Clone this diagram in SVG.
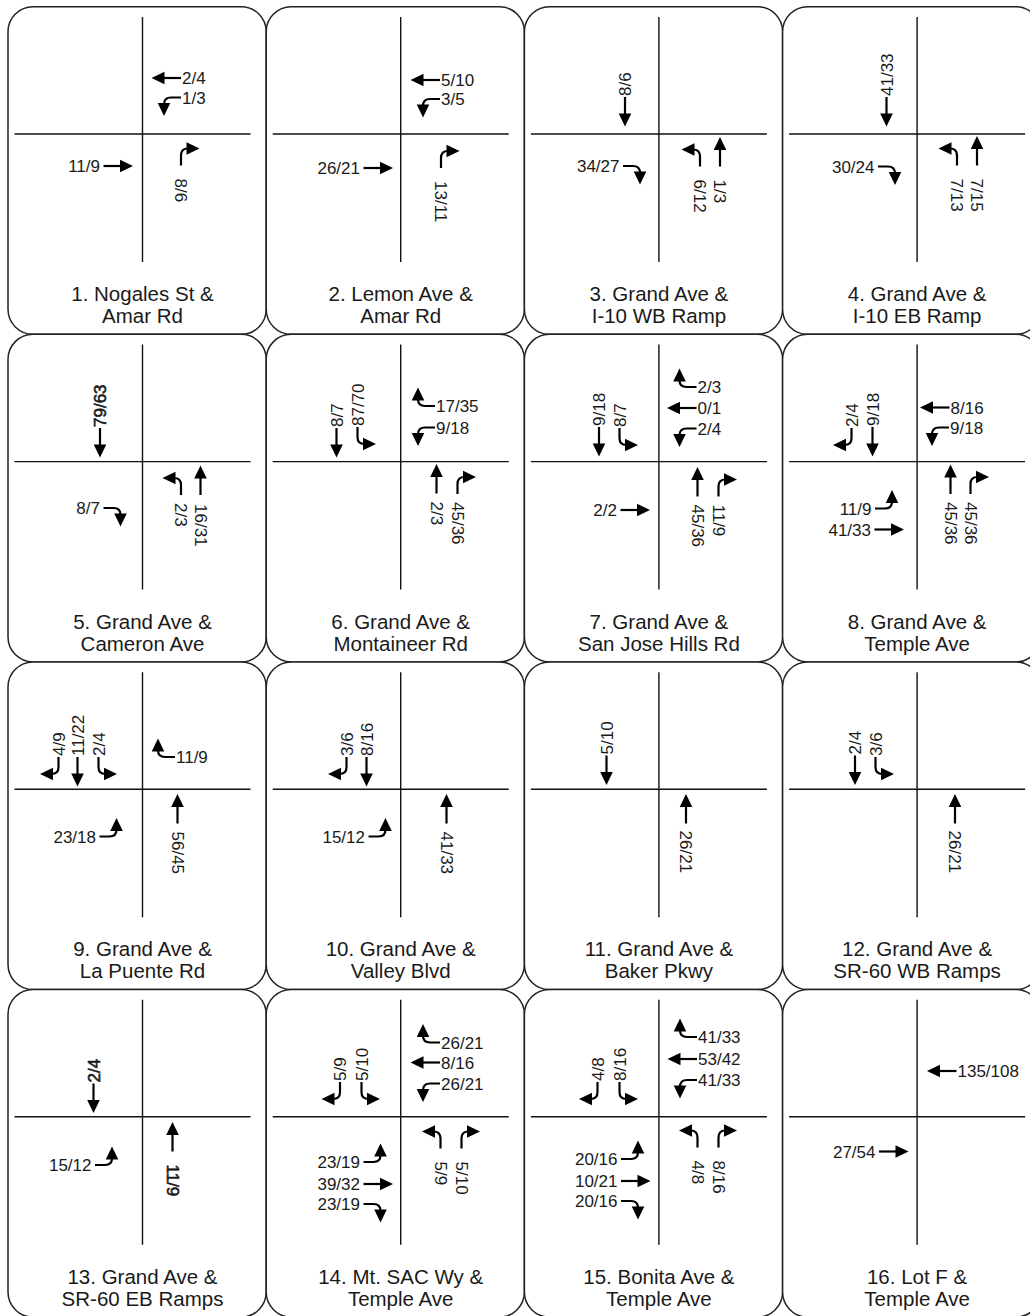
<svg xmlns="http://www.w3.org/2000/svg" width="1030" height="1316" viewBox="0 0 1030 1316">
<style>
.fr{fill:#fff;stroke:#222;stroke-width:1.5}
.rd{stroke:#111;stroke-width:1.4;fill:none}
text{font-family:"Liberation Sans",Arial,sans-serif;fill:#1a1a1a}
.n{font-size:17px}
.e{text-anchor:end}
.lb{font-size:20.5px;text-anchor:middle}
.b{stroke:#1a1a1a;stroke-width:0.6}
</style>
<defs>
<g id="T"><path d="M0,0H18" stroke="#000" stroke-width="2.2" fill="none"/><polygon points="16.5,-6.3 29.5,0 16.5,6.3" fill="#000"/></g>
<g id="R"><path d="M0,0H10Q17,0 17,7" stroke="#000" stroke-width="2.2" fill="none"/><polygon points="10.7,5.5 23.3,5.5 17,18.5" fill="#000"/></g>
<g id="L"><path d="M0,0H10Q17,0 17,-7" stroke="#000" stroke-width="2.2" fill="none"/><polygon points="10.7,-5.5 23.3,-5.5 17,-18.5" fill="#000"/></g>
</defs>
<rect width="1030" height="1316" fill="#fff"/>
<g id="frames">
<rect class="fr" x="8" y="6.7" width="258.2" height="327.6" rx="25"/>
<rect class="fr" x="266.2" y="6.7" width="258.2" height="327.6" rx="25"/>
<rect class="fr" x="524.4" y="6.7" width="258.2" height="327.6" rx="25"/>
<rect class="fr" x="782.6" y="6.7" width="258.2" height="327.6" rx="25"/>
<rect class="fr" x="8" y="334.3" width="258.2" height="327.6" rx="25"/>
<rect class="fr" x="266.2" y="334.3" width="258.2" height="327.6" rx="25"/>
<rect class="fr" x="524.4" y="334.3" width="258.2" height="327.6" rx="25"/>
<rect class="fr" x="782.6" y="334.3" width="258.2" height="327.6" rx="25"/>
<rect class="fr" x="8" y="661.9" width="258.2" height="327.6" rx="25"/>
<rect class="fr" x="266.2" y="661.9" width="258.2" height="327.6" rx="25"/>
<rect class="fr" x="524.4" y="661.9" width="258.2" height="327.6" rx="25"/>
<rect class="fr" x="782.6" y="661.9" width="258.2" height="327.6" rx="25"/>
<rect class="fr" x="8" y="989.5" width="258.2" height="327.6" rx="25"/>
<rect class="fr" x="266.2" y="989.5" width="258.2" height="327.6" rx="25"/>
<rect class="fr" x="524.4" y="989.5" width="258.2" height="327.6" rx="25"/>
<rect class="fr" x="782.6" y="989.5" width="258.2" height="327.6" rx="25"/>
</g>
<g id="roads">
<path class="rd" d="M142.5,17V262M14.5,134H250.5"/>
<path class="rd" d="M400.7,17V262M272.7,134H508.7"/>
<path class="rd" d="M658.9,17V262M530.9,134H766.9"/>
<path class="rd" d="M917.1,17V262M789.1,134H1025.1"/>
<path class="rd" d="M142.5,344.6V589.6M14.5,461.6H250.5"/>
<path class="rd" d="M400.7,344.6V589.6M272.7,461.6H508.7"/>
<path class="rd" d="M658.9,344.6V589.6M530.9,461.6H766.9"/>
<path class="rd" d="M917.1,344.6V589.6M789.1,461.6H1025.1"/>
<path class="rd" d="M142.5,672.2V917.2M14.5,789.2H250.5"/>
<path class="rd" d="M400.7,672.2V917.2M272.7,789.2H508.7"/>
<path class="rd" d="M658.9,672.2V917.2M530.9,789.2H766.9"/>
<path class="rd" d="M917.1,672.2V917.2M789.1,789.2H1025.1"/>
<path class="rd" d="M142.5,999.8V1244.8M14.5,1116.8H250.5"/>
<path class="rd" d="M400.7,999.8V1244.8M272.7,1116.8H508.7"/>
<path class="rd" d="M658.9,999.8V1244.8M530.9,1116.8H766.9"/>
<path class="rd" d="M917.1,999.8V1244.8M789.1,1116.8H1025.1"/>
</g>
<g id="p1">
<use href="#T" transform="translate(181,78) rotate(180)"/><text class="n" x="182" y="84">2/4</text>
<use href="#L" transform="translate(181,97.5) rotate(180)"/><text class="n" x="182" y="103.5">1/3</text>
<use href="#T" transform="translate(103.5,166)"/><text class="n e" x="100" y="172">11/9</text>
<use href="#R" transform="translate(181,165.5) rotate(-90)"/><text class="n" transform="translate(175,178.5) rotate(90)">8/6</text>
<text class="lb" x="142.5" y="301">1. Nogales St &amp;</text><text class="lb" x="142.5" y="323">Amar Rd</text>
</g>
<g id="p2">
<use href="#T" transform="translate(440,80) rotate(180)"/><text class="n" x="441" y="86">5/10</text>
<use href="#L" transform="translate(440,99) rotate(180)"/><text class="n" x="441" y="105">3/5</text>
<use href="#T" transform="translate(363.5,168)"/><text class="n e" x="360" y="174">26/21</text>
<use href="#R" transform="translate(441,168) rotate(-90)"/><text class="n" transform="translate(435,181) rotate(90)">13/11</text>
<text class="lb" x="400.7" y="301">2. Lemon Ave &amp;</text><text class="lb" x="400.7" y="323">Amar Rd</text>
</g>
<g id="p3">
<use href="#T" transform="translate(625,97) rotate(90)"/><text class="n" transform="translate(631,96) rotate(-90)">8/6</text>
<use href="#R" transform="translate(623,166)"/><text class="n e" x="619.5" y="172">34/27</text>
<use href="#L" transform="translate(700,166.5) rotate(-90)"/><text class="n" transform="translate(694,179.5) rotate(90)">6/12</text>
<use href="#T" transform="translate(720,166.5) rotate(-90)"/><text class="n" transform="translate(714,179.5) rotate(90)">1/3</text>
<text class="lb" x="658.9" y="301">3. Grand Ave &amp;</text><text class="lb" x="658.9" y="323">I-10 WB Ramp</text>
</g>
<g id="p4">
<use href="#T" transform="translate(886.5,97) rotate(90)"/><text class="n" transform="translate(892.5,96) rotate(-90)">41/33</text>
<use href="#R" transform="translate(878,166.5)"/><text class="n e" x="874.5" y="172.5">30/24</text>
<use href="#L" transform="translate(957,165.5) rotate(-90)"/><text class="n" transform="translate(951,178.5) rotate(90)">7/13</text>
<use href="#T" transform="translate(977,165.5) rotate(-90)"/><text class="n" transform="translate(971,178.5) rotate(90)">7/15</text>
<text class="lb" x="917.1" y="301">4. Grand Ave &amp;</text><text class="lb" x="917.1" y="323">I-10 EB Ramp</text>
</g>
<g id="p5">
<use href="#T" transform="translate(100,428) rotate(90)"/><text class="n b" transform="translate(106,427) rotate(-90)">79/63</text>
<use href="#R" transform="translate(103.5,508)"/><text class="n e" x="100" y="514">8/7</text>
<use href="#L" transform="translate(181,495) rotate(-90)"/><text class="n" transform="translate(175,503) rotate(90)">2/3</text>
<use href="#T" transform="translate(200.5,495) rotate(-90)"/><text class="n" transform="translate(194.5,504) rotate(90)">16/31</text>
<text class="lb" x="142.5" y="628.6">5. Grand Ave &amp;</text><text class="lb" x="142.5" y="650.6">Cameron Ave</text>
</g>
<g id="p6">
<use href="#T" transform="translate(336.5,428) rotate(90)"/><text class="n" transform="translate(342.5,427) rotate(-90)">8/7</text>
<use href="#L" transform="translate(357.5,427) rotate(90)"/><text class="n" transform="translate(363.5,426) rotate(-90)">87/70</text>
<use href="#R" transform="translate(435,406) rotate(180)"/><text class="n" x="436" y="412">17/35</text>
<use href="#L" transform="translate(435,427.5) rotate(180)"/><text class="n" x="436" y="433.5">9/18</text>
<use href="#T" transform="translate(436.5,493.5) rotate(-90)"/><text class="n" transform="translate(430.5,501.5) rotate(90)">2/3</text>
<use href="#R" transform="translate(457.5,494) rotate(-90)"/><text class="n" transform="translate(451.5,502) rotate(90)">45/36</text>
<text class="lb" x="400.7" y="628.6">6. Grand Ave &amp;</text><text class="lb" x="400.7" y="650.6">Montaineer Rd</text>
</g>
<g id="p7">
<use href="#T" transform="translate(599,427) rotate(90)"/><text class="n" transform="translate(605,426) rotate(-90)">9/18</text>
<use href="#L" transform="translate(619.5,428) rotate(90)"/><text class="n" transform="translate(625.5,427) rotate(-90)">8/7</text>
<use href="#R" transform="translate(696.5,387) rotate(180)"/><text class="n" x="697.5" y="393">2/3</text>
<use href="#T" transform="translate(696.5,408) rotate(180)"/><text class="n" x="697.5" y="414">0/1</text>
<use href="#L" transform="translate(696.5,428.5) rotate(180)"/><text class="n" x="697.5" y="434.5">2/4</text>
<use href="#T" transform="translate(620.5,510)"/><text class="n e" x="617" y="516">2/2</text>
<use href="#T" transform="translate(697.5,496.5) rotate(-90)"/><text class="n" transform="translate(691.5,504.5) rotate(90)">45/36</text>
<use href="#R" transform="translate(718.5,496.5) rotate(-90)"/><text class="n" transform="translate(712.5,504.5) rotate(90)">11/9</text>
<text class="lb" x="658.9" y="628.6">7. Grand Ave &amp;</text><text class="lb" x="658.9" y="650.6">San Jose Hills Rd</text>
</g>
<g id="p8">
<use href="#R" transform="translate(851.5,428) rotate(90)"/><text class="n" transform="translate(857.5,427) rotate(-90)">2/4</text>
<use href="#T" transform="translate(872.5,427) rotate(90)"/><text class="n" transform="translate(878.5,426) rotate(-90)">9/18</text>
<use href="#T" transform="translate(949.5,407.5) rotate(180)"/><text class="n" x="950.5" y="413.5">8/16</text>
<use href="#L" transform="translate(949,427.5) rotate(180)"/><text class="n" x="950" y="433.5">9/18</text>
<use href="#L" transform="translate(875,508.5)"/><text class="n e" x="871.5" y="514.5">11/9</text>
<use href="#T" transform="translate(874.5,529.5)"/><text class="n e" x="871" y="535.5">41/33</text>
<use href="#T" transform="translate(950.5,494) rotate(-90)"/><text class="n" transform="translate(944.5,502) rotate(90)">45/36</text>
<use href="#R" transform="translate(970.5,494) rotate(-90)"/><text class="n" transform="translate(964.5,502) rotate(90)">45/36</text>
<text class="lb" x="917.1" y="628.6">8. Grand Ave &amp;</text><text class="lb" x="917.1" y="650.6">Temple Ave</text>
</g>
<g id="p9">
<use href="#R" transform="translate(58.5,757) rotate(90)"/><text class="n" transform="translate(64.5,756) rotate(-90)">4/9</text>
<use href="#T" transform="translate(77.5,757) rotate(90)"/><text class="n" transform="translate(83.5,756) rotate(-90)">11/22</text>
<use href="#L" transform="translate(98.5,757) rotate(90)"/><text class="n" transform="translate(104.5,756) rotate(-90)">2/4</text>
<use href="#R" transform="translate(175,757) rotate(180)"/><text class="n" x="176" y="763">11/9</text>
<use href="#L" transform="translate(99.5,836.5)"/><text class="n e" x="96" y="842.5">23/18</text>
<use href="#T" transform="translate(177.5,823.5) rotate(-90)"/><text class="n" transform="translate(171.5,831.5) rotate(90)">56/45</text>
<text class="lb" x="142.5" y="956.2">9. Grand Ave &amp;</text><text class="lb" x="142.5" y="978.2">La Puente Rd</text>
</g>
<g id="p10">
<use href="#R" transform="translate(346.5,757) rotate(90)"/><text class="n" transform="translate(352.5,756) rotate(-90)">3/6</text>
<use href="#T" transform="translate(366.5,757) rotate(90)"/><text class="n" transform="translate(372.5,756) rotate(-90)">8/16</text>
<use href="#L" transform="translate(368.5,836.5)"/><text class="n e" x="365" y="842.5">15/12</text>
<use href="#T" transform="translate(446.5,823.5) rotate(-90)"/><text class="n" transform="translate(440.5,831.5) rotate(90)">41/33</text>
<text class="lb" x="400.7" y="956.2">10. Grand Ave &amp;</text><text class="lb" x="400.7" y="978.2">Valley Blvd</text>
</g>
<g id="p11">
<use href="#T" transform="translate(606.5,755.5) rotate(90)"/><text class="n" transform="translate(612.5,754.5) rotate(-90)">5/10</text>
<use href="#T" transform="translate(686,823.5) rotate(-90)"/><text class="n" transform="translate(680,830.5) rotate(90)">26/21</text>
<text class="lb" x="658.9" y="956.2">11. Grand Ave &amp;</text><text class="lb" x="658.9" y="978.2">Baker Pkwy</text>
</g>
<g id="p12">
<use href="#T" transform="translate(855,755.5) rotate(90)"/><text class="n" transform="translate(861,754.5) rotate(-90)">2/4</text>
<use href="#L" transform="translate(875.5,757) rotate(90)"/><text class="n" transform="translate(881.5,756) rotate(-90)">3/6</text>
<use href="#T" transform="translate(955,823.5) rotate(-90)"/><text class="n" transform="translate(949,830.5) rotate(90)">26/21</text>
<text class="lb" x="917.1" y="956.2">12. Grand Ave &amp;</text><text class="lb" x="917.1" y="978.2">SR-60 WB Ramps</text>
</g>
<g id="p13">
<use href="#T" transform="translate(93.5,1083.5) rotate(90)"/><text class="n b" transform="translate(99.5,1082.5) rotate(-90)">2/4</text>
<use href="#L" transform="translate(95,1165)"/><text class="n e" x="91.5" y="1171">15/12</text>
<use href="#T" transform="translate(172.5,1151.5) rotate(-90)"/><text class="n b" transform="translate(166.5,1164.5) rotate(90)">11/9</text>
<text class="lb" x="142.5" y="1283.8">13. Grand Ave &amp;</text><text class="lb" x="142.5" y="1305.8">SR-60 EB Ramps</text>
</g>
<g id="p14">
<use href="#R" transform="translate(340,1082) rotate(90)"/><text class="n" transform="translate(346,1081) rotate(-90)">5/9</text>
<use href="#L" transform="translate(361.5,1082) rotate(90)"/><text class="n" transform="translate(367.5,1081) rotate(-90)">5/10</text>
<use href="#R" transform="translate(440,1042.5) rotate(180)"/><text class="n" x="441" y="1048.5">26/21</text>
<use href="#T" transform="translate(440,1062.5) rotate(180)"/><text class="n" x="441" y="1068.5">8/16</text>
<use href="#L" transform="translate(440,1083.5) rotate(180)"/><text class="n" x="441" y="1089.5">26/21</text>
<use href="#L" transform="translate(363.5,1162)"/><text class="n e" x="360" y="1168">23/19</text>
<use href="#T" transform="translate(363.5,1184)"/><text class="n e" x="360" y="1190">39/32</text>
<use href="#R" transform="translate(363.5,1204)"/><text class="n e" x="360" y="1210">23/19</text>
<use href="#L" transform="translate(440.5,1148.5) rotate(-90)"/><text class="n" transform="translate(434.5,1161.5) rotate(90)">5/9</text>
<use href="#R" transform="translate(461.5,1148.5) rotate(-90)"/><text class="n" transform="translate(455.5,1161.5) rotate(90)">5/10</text>
<text class="lb" x="400.7" y="1283.8">14. Mt. SAC Wy &amp;</text><text class="lb" x="400.7" y="1305.8">Temple Ave</text>
</g>
<g id="p15">
<use href="#R" transform="translate(597.5,1082) rotate(90)"/><text class="n" transform="translate(603.5,1081) rotate(-90)">4/8</text>
<use href="#L" transform="translate(619.5,1082) rotate(90)"/><text class="n" transform="translate(625.5,1081) rotate(-90)">8/16</text>
<use href="#R" transform="translate(697,1037) rotate(180)"/><text class="n" x="698" y="1043">41/33</text>
<use href="#T" transform="translate(697,1059) rotate(180)"/><text class="n" x="698" y="1065">53/42</text>
<use href="#L" transform="translate(697,1080) rotate(180)"/><text class="n" x="698" y="1086">41/33</text>
<use href="#L" transform="translate(621,1159)"/><text class="n e" x="617.5" y="1165">20/16</text>
<use href="#T" transform="translate(621,1181)"/><text class="n e" x="617.5" y="1187">10/21</text>
<use href="#R" transform="translate(621,1201)"/><text class="n e" x="617.5" y="1207">20/16</text>
<use href="#L" transform="translate(697.5,1147.5) rotate(-90)"/><text class="n" transform="translate(691.5,1160.5) rotate(90)">4/8</text>
<use href="#R" transform="translate(718.5,1147.5) rotate(-90)"/><text class="n" transform="translate(712.5,1160.5) rotate(90)">8/16</text>
<text class="lb" x="658.9" y="1283.8">15. Bonita Ave &amp;</text><text class="lb" x="658.9" y="1305.8">Temple Ave</text>
</g>
<g id="p16">
<use href="#T" transform="translate(956.5,1071) rotate(180)"/><text class="n" x="957.5" y="1077">135/108</text>
<use href="#T" transform="translate(879,1151.5)"/><text class="n e" x="875.5" y="1157.5">27/54</text>
<text class="lb" x="917.1" y="1283.8">16. Lot F &amp;</text><text class="lb" x="917.1" y="1305.8">Temple Ave</text>
</g>
</svg>
